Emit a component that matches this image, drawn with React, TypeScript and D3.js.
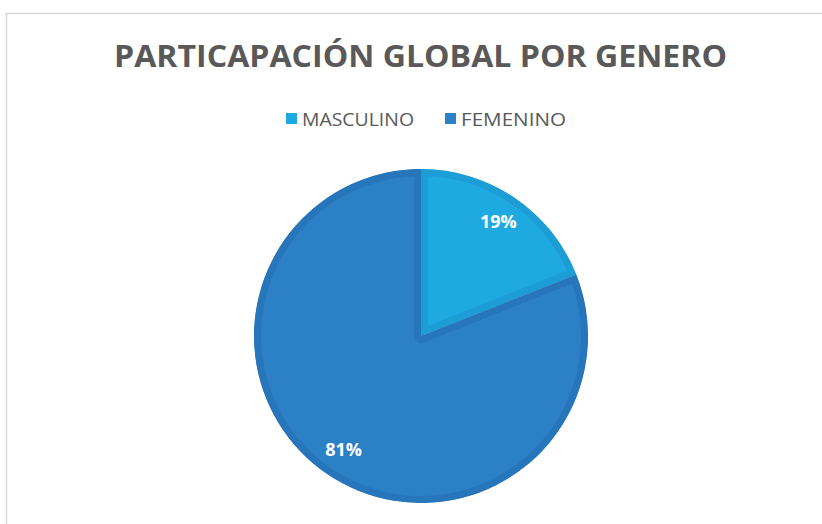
import React, { useRef, useEffect } from 'react';
import * as d3 from 'd3';

const TITLE = 'PARTICAPACIÓN GLOBAL POR GENERO';
const categories = ['MASCULINO', 'FEMENINO'];
const values = [19, 81];
const fillColors = ['#1fa9e1', '#2b80c6'];
const edgeColors = ['#1c9dd6', '#2775bb'];

const WIDTH = 822;
const HEIGHT = 524;

function drawPie(svgEle: SVGSVGElement) {
  const svg = d3.select(svgEle);
  svg.selectAll('*').remove();

  // 外框，只有上边和左边可见
  svg
    .append('rect')
    .attr('x', 6.5)
    .attr('y', 13.5)
    .attr('width', WIDTH)
    .attr('height', HEIGHT)
    .attr('fill', 'white')
    .attr('stroke', '#d9d9d9')
    .attr('stroke-width', 1.5);

  // 标题
  svg
    .append('text')
    .attr('x', 114)
    .attr('y', 67)
    .attr('textLength', 613)
    .attr('lengthAdjust', 'spacingAndGlyphs')
    .attr('font-family', '"Open Sans", sans-serif')
    .attr('font-weight', 700)
    .attr('font-size', 31)
    .attr('fill', '#595959')
    .text(TITLE);

  // 图例
  const legendX = [286, 445];
  const legendW = [112, 105];
  const legend = svg
    .selectAll('g.legend')
    .data(categories)
    .enter()
    .append('g')
    .attr('class', 'legend')
    .attr('transform', (d, i) => `translate(${legendX[i]}, 113)`);
  legend
    .append('rect')
    .attr('width', 11)
    .attr('height', 11)
    .attr('fill', (d, i) => fillColors[i]);
  legend
    .append('text')
    .attr('x', 16)
    .attr('y', 12.5)
    .attr('textLength', (d, i) => legendW[i])
    .attr('lengthAdjust', 'spacingAndGlyphs')
    .attr('font-family', '"Open Sans", sans-serif')
    .attr('font-size', 17.5)
    .attr('fill', '#595959')
    .text((d) => d);

  // 饼图
  const cx = 421;
  const cy = 336;
  const radius = 167;
  const pie = d3
    .pie<number>()
    .sort(null)
    .value((d) => d);
  const arcs = pie(values);
  const arc = d3.arc<d3.PieArcDatum<number>>().innerRadius(0).outerRadius(radius);
  const labelArc = d3
    .arc<d3.PieArcDatum<number>>()
    .innerRadius(radius * 0.825)
    .outerRadius(radius * 0.825);

  const g = svg.append('g').attr('transform', `translate(${cx}, ${cy})`);
  const defs = svg.append('defs');
  arcs.forEach((a, i) => {
    defs
      .append('clipPath')
      .attr('id', `slice-clip-${i}`)
      .append('path')
      .attr('d', arc(a) as string);
  });

  // 扇形，描边只保留内侧一半
  g.selectAll('path.slice')
    .data(arcs)
    .enter()
    .append('path')
    .attr('class', 'slice')
    .attr('d', (d) => arc(d) as string)
    .attr('clip-path', (d, i) => `url(#slice-clip-${i})`)
    .attr('fill', (d, i) => fillColors[i])
    .attr('stroke', (d, i) => edgeColors[i])
    .attr('stroke-width', 14)
    .attr('stroke-linejoin', 'round');

  // 百分比标签
  const total = d3.sum(values);
  g.selectAll('text.label')
    .data(arcs)
    .enter()
    .append('text')
    .attr('class', 'label')
    .attr('transform', (d) => `translate(${labelArc.centroid(d)})`)
    .attr('text-anchor', 'middle')
    .attr('dy', '0.35em')
    .attr('font-family', '"Open Sans", sans-serif')
    .attr('font-weight', 700)
    .attr('font-size', 18)
    .attr('fill', 'white')
    .text((d) => `${Math.round((d.data / total) * 100)}%`);
}

export default function App(): JSX.Element {
  const svgRef = useRef<SVGSVGElement>(null);

  useEffect(() => {
    const svgEle = svgRef.current;
    if (svgEle == null) {
      return;
    }
    drawPie(svgEle);
  }, []);

  return (
    <svg
      ref={svgRef}
      width={WIDTH}
      height={HEIGHT}
      style={{ position: 'absolute', left: 0, top: 0, background: 'white' }}
    />
  );
}
